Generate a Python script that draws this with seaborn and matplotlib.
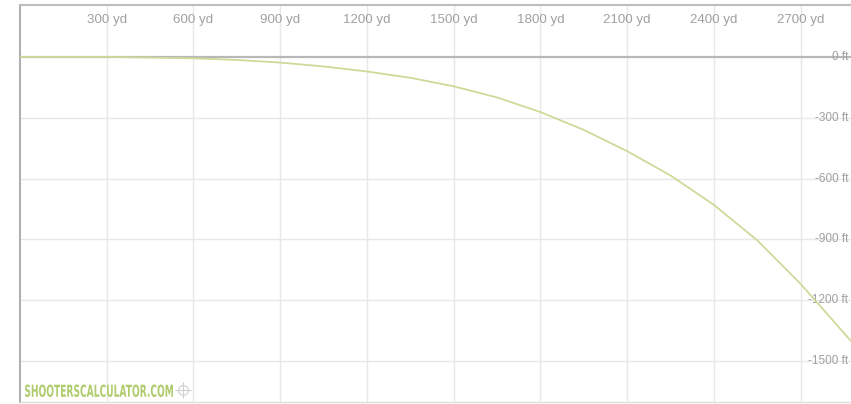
import numpy as np
import pandas as pd
import matplotlib
matplotlib.use("Agg")
import matplotlib.pyplot as plt
import matplotlib.transforms as mtransforms
from matplotlib.textpath import TextPath
from matplotlib.patches import PathPatch
from matplotlib.font_manager import FontProperties
import seaborn as sns

# trajectory (yards vs drop in feet)
range_yd = [0, 300, 600, 750, 900, 1050, 1200, 1350, 1500, 1650, 1800, 1950,
            2100, 2250, 2400, 2550, 2700, 2874]
drop_ft = [0, 0, -7, -15, -28, -47, -72, -103, -145, -200, -272, -360,
           -465, -585, -730, -905, -1120, -1401]

x_ticks = [300, 600, 900, 1200, 1500, 1800, 2100, 2400, 2700]
x_labels = [f"{v} yd" for v in x_ticks]
y_ticks = [0, -300, -600, -900, -1200, -1500]
y_labels = [f"{v} ft" for v in y_ticks]

df = pd.DataFrame({"range": range_yd, "drop": drop_ft})

sns.set_style("white")
plt.rcParams["font.family"] = ["Liberation Sans", "DejaVu Sans"]

fig = plt.figure(figsize=(8.51, 4.04), dpi=100)
ax = fig.add_axes([20 / 851, 2 / 404, 1 - 20 / 851, 1 - 7 / 404])

ax.set_xlim(0, 2874)
ax.set_ylim(-1702, 256)

for v in x_ticks:
    ax.axvline(v, color="#e8e8e8", lw=1, zorder=0)
for v in y_ticks[1:]:
    ax.axhline(v, color="#e8e8e8", lw=1, zorder=0)
ax.axhline(0, color="#b8b8b8", lw=1.6, zorder=1)

sns.lineplot(data=df, x="range", y="drop", ax=ax, color="#d2d89a", lw=1.3,
             zorder=3)

ax.set_xticks(x_ticks)
ax.set_xticklabels(x_labels)
ax.xaxis.tick_top()
ax.tick_params(axis="x", top=False, bottom=False, length=0, pad=-15,
               labelsize=9.6, labelcolor="#a0a0a0")
ax.set_yticks([])
ax.set_xlabel("")
ax.set_ylabel("")

trans = mtransforms.blended_transform_factory(ax.transAxes, ax.transData)
for v, lab in zip(y_ticks, y_labels):
    ax.text(0.9965, v, lab, transform=trans, ha="right", va="center",
            fontsize=8.5, color="#a0a0a0", zorder=2)

ax.spines["right"].set_visible(False)
ax.spines["left"].set_color("#b0b0b0")
ax.spines["top"].set_color("#bdbdbd")
ax.spines["bottom"].set_color("#dedede")
ax.spines["left"].set_linewidth(1.5)
ax.spines["top"].set_linewidth(1.5)
ax.spines["bottom"].set_linewidth(1.0)

# watermark, squeezed horizontally to look like a condensed face
wm = TextPath((0, 0), "SHOOTERSCALCULATOR.COM", size=14,
              prop=FontProperties(family="DejaVu Sans", weight="bold"))
ext = wm.get_extents()
wm_tr = (mtransforms.Affine2D().translate(-ext.x0, -ext.y0)
         .scale(148 / ext.width, 12.5 / ext.height).translate(25, 7))
fig.patches.append(PathPatch(wm, transform=wm_tr, facecolor="#afcc6c",
                             edgecolor="none", figure=fig))

ax.plot([0.196], [0.031], transform=ax.transAxes, marker="o", ms=7,
        mfc="none", mec="#cfcfcf", mew=0.8, clip_on=False)
ax.plot([0.196], [0.031], transform=ax.transAxes, marker="+", ms=11.5,
        mec="#cfcfcf", mew=0.8, clip_on=False)

fig.savefig("out.png", dpi=100)
